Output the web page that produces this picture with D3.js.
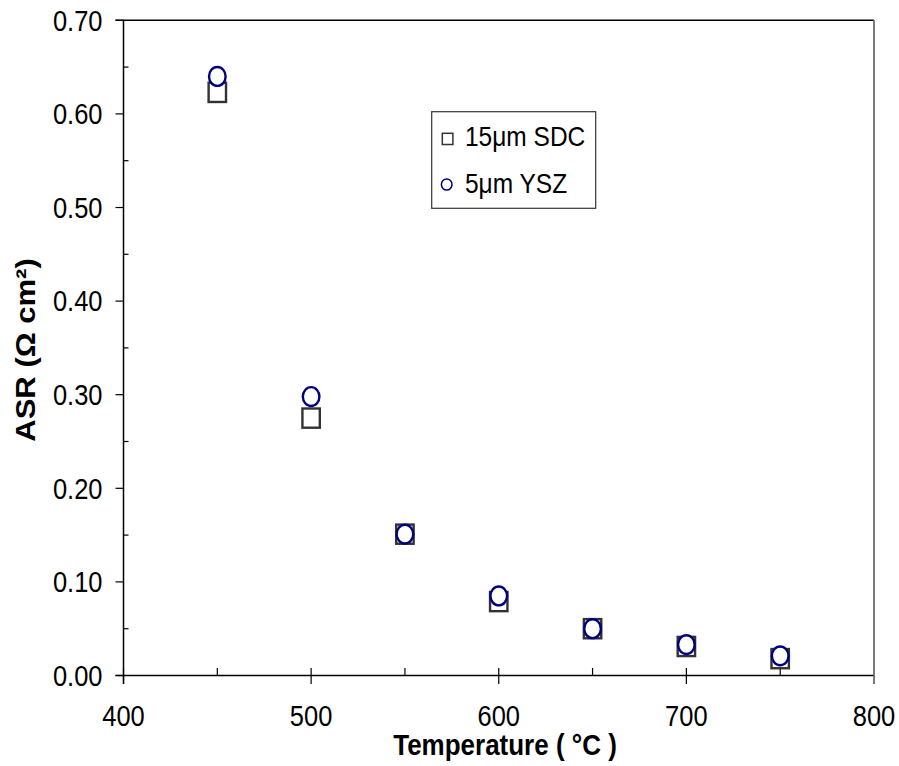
<!DOCTYPE html>
<html>
<head>
<meta charset="utf-8">
<script src="https://cdn.jsdelivr.net/npm/d3@7"></script>
<style>
  html, body { margin: 0; padding: 0; background: #fff; }
  svg text { font-family: "Liberation Sans", Arial, sans-serif; fill: #000; }
</style>
</head>
<body>
<svg id="chart" width="899" height="766"></svg>
<script>
// ASR of the cathode vs. operating temperature for two electrolytes
const temperatures = [450, 500, 550, 600, 650, 700, 750];
const sdc15 = [0.623, 0.275, 0.151, 0.079, 0.050, 0.031, 0.018];
const ysz5  = [0.640, 0.298, 0.151, 0.085, 0.050, 0.033, 0.021];
const xTickLabels = [400, 500, 600, 700, 800];
const yTickLabels = [0.00, 0.10, 0.20, 0.30, 0.40, 0.50, 0.60, 0.70];
const seriesNames = ["15μm SDC", "5μm YSZ"];

const svg = d3.select("#chart");
const plotLeft = 123.5, plotRight = 874, plotTop = 20.3, plotBottom = 675.5;
const stretch = 1.15; // glyphs are drawn slightly tall

const x = d3.scaleLinear().domain([400, 800]).range([plotLeft, plotRight]);
const y = d3.scaleLinear().domain([0, 0.7]).range([plotBottom, plotTop]);

// frame: top and right borders
svg.append("line").attr("x1", plotLeft - 8).attr("x2", plotRight).attr("y1", plotTop).attr("y2", plotTop)
  .attr("stroke", "#000").attr("stroke-width", 1.4);
svg.append("line").attr("x1", plotRight).attr("x2", plotRight).attr("y1", plotTop).attr("y2", plotBottom + 8.5)
  .attr("stroke", "#7a7a7a").attr("stroke-width", 2);

// y axis: outward major ticks, inward minor ticks
const yAxis = svg.append("g");
yAxis.append("line").attr("x1", plotLeft).attr("x2", plotLeft).attr("y1", plotTop).attr("y2", plotBottom + 8.5)
  .attr("stroke", "#000").attr("stroke-width", 1.5);
yAxis.selectAll(".ymaj").data(yTickLabels).join("line")
  .attr("x1", plotLeft - 8).attr("x2", plotLeft)
  .attr("y1", d => y(d)).attr("y2", d => y(d))
  .attr("stroke", "#000").attr("stroke-width", 1.2);
const yMinor = d3.range(0.05, 0.7, 0.1);
yAxis.selectAll(".ymin").data(yMinor).join("line")
  .attr("x1", plotLeft).attr("x2", plotLeft + 5)
  .attr("y1", d => y(d)).attr("y2", d => y(d))
  .attr("stroke", "#000").attr("stroke-width", 1.2);
yAxis.selectAll("text").data(yTickLabels).join("text")
  .attr("transform", d => `translate(${plotLeft - 21},${y(d)}) scale(1,${stretch})`)
  .attr("text-anchor", "end").attr("dy", "0.35em")
  .style("font-size", "25.5px")
  .text(d => d3.format(".2f")(d));

// x axis: major ticks cross the axis, minor ticks inside
const xAxis = svg.append("g");
xAxis.append("line").attr("x1", plotLeft - 8).attr("x2", plotRight).attr("y1", plotBottom).attr("y2", plotBottom)
  .attr("stroke", "#000").attr("stroke-width", 1.5);
xAxis.selectAll(".xmaj").data(xTickLabels).join("line")
  .attr("x1", d => x(d)).attr("x2", d => x(d))
  .attr("y1", plotBottom - 7.5).attr("y2", plotBottom + 8.5)
  .attr("stroke", d => d === 800 ? "#7a7a7a" : "#000").attr("stroke-width", 1.2);
const xMinor = [450, 550, 650, 750];
xAxis.selectAll(".xmin").data(xMinor).join("line")
  .attr("x1", d => x(d)).attr("x2", d => x(d))
  .attr("y1", plotBottom - 7.5).attr("y2", plotBottom)
  .attr("stroke", "#000").attr("stroke-width", 1.2);
xAxis.selectAll("text").data(xTickLabels).join("text")
  .attr("transform", d => `translate(${x(d)},${plotBottom + 30}) scale(1,${stretch})`)
  .attr("text-anchor", "middle").attr("dy", "0.71em")
  .style("font-size", "25.5px")
  .text(d => d);

// axis titles
svg.append("text")
  .attr("transform", `translate(505,${plotBottom + 69}) scale(1,${stretch})`)
  .attr("text-anchor", "middle").attr("dy", "0.35em")
  .style("font-size", "26px").style("font-weight", "bold")
  .text("Temperature ( °C )");
svg.append("text")
  .attr("transform", `translate(26,350) scale(1,${stretch}) rotate(-90)`)
  .attr("text-anchor", "middle").attr("dy", "0.35em")
  .style("font-size", "27px").style("font-weight", "bold")
  .text("ASR (Ω cm²)");

// markers
const sq = svg.append("g");
sq.selectAll("rect").data(temperatures).join("rect")
  .attr("x", d => x(d) - 8.7).attr("y", (d, i) => y(sdc15[i]) - 9.6)
  .attr("width", 17.4).attr("height", 19.2)
  .attr("fill", "#fff").attr("stroke", "#333").attr("stroke-width", 2.4);
const circ = svg.append("g");
circ.selectAll("ellipse").data(temperatures).join("ellipse")
  .attr("cx", d => x(d)).attr("cy", (d, i) => y(ysz5[i]))
  .attr("rx", 8.3).attr("ry", 9.4)
  .attr("fill", "#fff").attr("stroke", "#000080").attr("stroke-width", 2.4);

// legend
const lg = svg.append("g");
lg.append("rect").attr("x", 431.7).attr("y", 111.7).attr("width", 164).attr("height", 96.6)
  .attr("fill", "#fff").attr("stroke", "#333").attr("stroke-width", 1.2);
lg.append("rect").attr("x", 442.3).attr("y", 133.3).attr("width", 10.6).attr("height", 11.2)
  .attr("fill", "#fff").attr("stroke", "#333").attr("stroke-width", 1.5);
lg.append("ellipse").attr("cx", 446.7).attr("cy", 184.5).attr("rx", 5.3).attr("ry", 5.6)
  .attr("fill", "#fff").attr("stroke", "#000080").attr("stroke-width", 1.5);
lg.selectAll("text").data(seriesNames).join("text")
  .attr("transform", (d, i) => `translate(465,${i === 0 ? 136 : 183}) scale(1,${stretch})`)
  .attr("dy", "0.35em")
  .style("font-size", "24.5px")
  .text(d => d);
</script>
</body>
</html>
